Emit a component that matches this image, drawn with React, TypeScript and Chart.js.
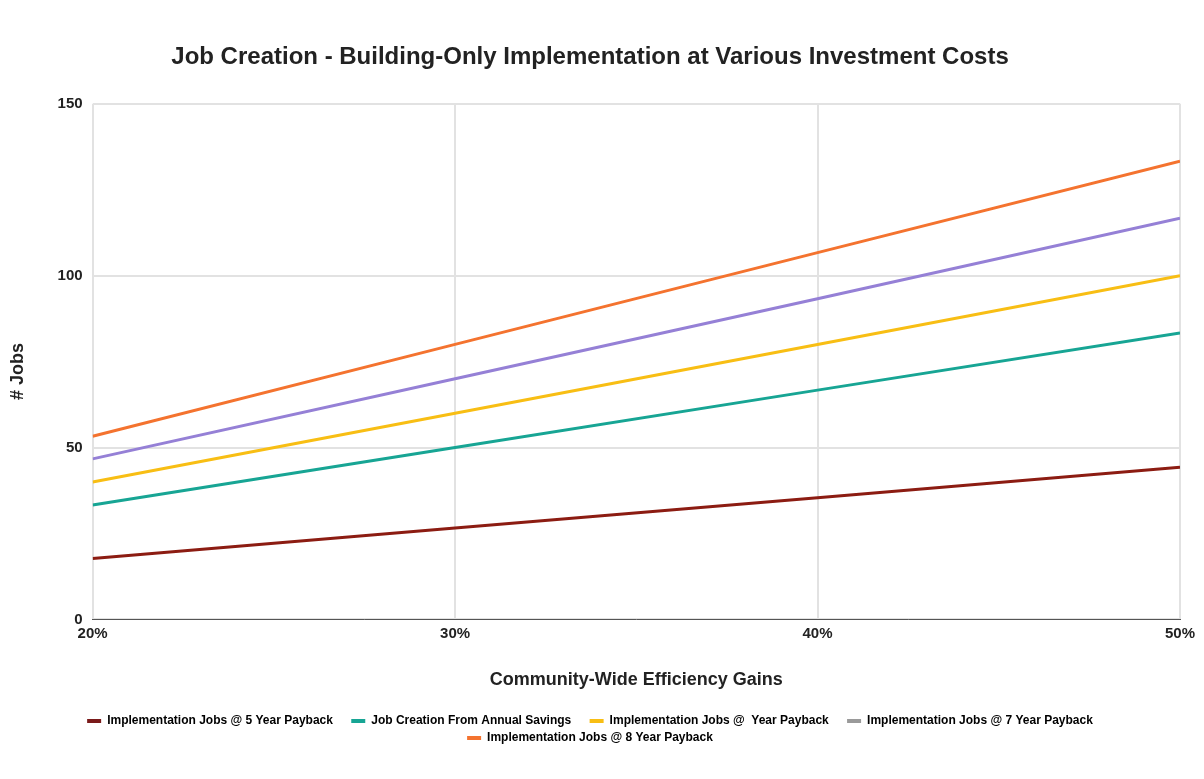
import React, { useEffect, useRef } from "react";
import { Chart, registerables } from "chart.js";

Chart.register(...registerables);

const efficiencyGains = [20, 30, 40, 50];
const jobs5Year = [17.7, 26.6, 35.4, 44.3];
const jobsAnnualSavings = [33.3, 50, 66.7, 83.3];
const jobsBlankYear = [40, 60, 80, 100];
const jobs7Year = [46.7, 70, 93.3, 116.7];
const jobs8Year = [53.3, 80, 106.7, 133.3];

const seriesNames = [
  "Implementation Jobs @ 5 Year Payback",
  "Job Creation From Annual Savings",
  "Implementation Jobs @  Year Payback",
  "Implementation Jobs @ 7 Year Payback",
  "Implementation Jobs @ 8 Year Payback",
];
const seriesValues = [jobs5Year, jobsAnnualSavings, jobsBlankYear, jobs7Year, jobs8Year];
const lineColors = ["#8c1c12", "#17a594", "#f8be14", "#9580d6", "#f4732f"];
const legendColors = ["#7a1a1a", "#17a594", "#f8be14", "#9a9a9a", "#f4732f"];

const FONT = "Liberation Sans, Arial, sans-serif";

export default function App() {
  const ref = useRef<HTMLCanvasElement | null>(null);
  useEffect(() => {
    document.body.style.margin = "0";
    const ctx = ref.current!;
    const chart = new Chart(ctx, {
      type: "line",
      data: {
        datasets: seriesNames.map((name, i) => ({
          label: name,
          data: efficiencyGains.map((x, j) => ({ x, y: seriesValues[i][j] })),
          borderColor: lineColors[i],
          backgroundColor: lineColors[i],
          borderWidth: 3,
          pointRadius: 0,
          tension: 0,
          order: 5 - i,
        })),
      },
      options: {
        responsive: false,
        animation: false,
        layout: { padding: { left: 0, right: 24, top: 0, bottom: 25 } },
        plugins: {
          title: {
            display: true,
            text: "Job Creation - Building-Only Implementation at Various Investment Costs",
            color: "#222",
            font: { family: FONT, size: 24, weight: "bold" },
            padding: { top: 43, bottom: 32 },
          },
          legend: {
            position: "bottom",
            labels: {
              color: "#222",
              font: { family: FONT, size: 12, weight: "bold" },
              boxWidth: 14,
              boxHeight: 4,
              padding: 5,
              generateLabels: (c: any) =>
                c.data.datasets.map((d: any, i: number) => ({
                  text: i < 3 ? d.label + "    " : d.label,
                  fillStyle: legendColors[i],
                  strokeStyle: legendColors[i],
                  lineWidth: 0,
                  datasetIndex: i,
                  hidden: false,
                })),
            },
          },
          tooltip: { enabled: false },
        },
        scales: {
          x: {
            type: "linear",
            min: 20,
            max: 50,
            ticks: {
              stepSize: 10,
              callback: (v: any) => v + "%",
              color: "#222",
              font: { family: FONT, size: 15, weight: "bold" },
              padding: 5,
            },
            grid: { color: "#e2e2e2", lineWidth: 2, drawTicks: false },
            border: { color: "#555", width: 1 },
            title: {
              display: true,
              text: "Community-Wide Efficiency Gains",
              color: "#222",
              font: { family: FONT, size: 18, weight: "bold" },
              padding: { top: 22, bottom: 19 },
            },
          },
          y: {
            min: 0,
            max: 150,
            ticks: {
              stepSize: 50,
              color: "#222",
              font: { family: FONT, size: 15, weight: "bold" },
              padding: 10,
            },
            grid: { color: "#e2e2e2", lineWidth: 2, drawTicks: false },
            border: { display: false },
            title: {
              display: true,
              text: "# Jobs    ",
              color: "#222",
              font: { family: FONT, size: 18, weight: "bold" },
              padding: { top: 7, bottom: 19 },
            },
          },
        },
      },
    });
    return () => chart.destroy();
  }, []);
  return (
    <div style={{ width: 1204, height: 779, background: "#fff" }}>
      <canvas ref={ref} width={1204} height={779} />
    </div>
  );
}
